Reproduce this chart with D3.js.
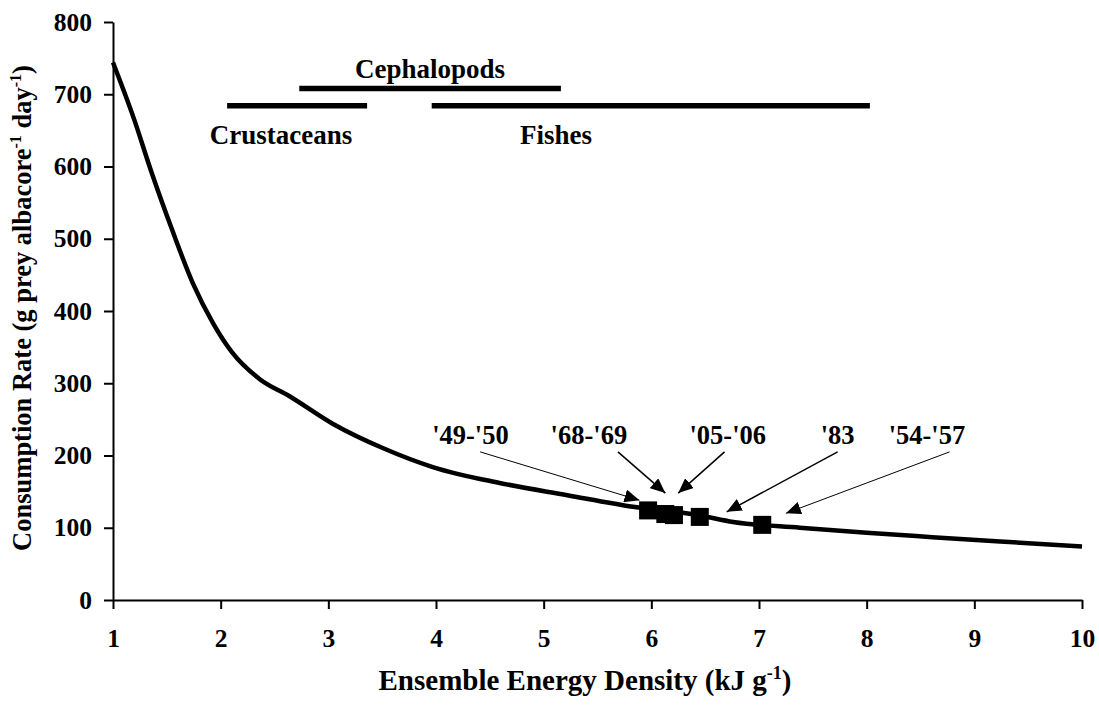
<!DOCTYPE html>
<html>
<head>
<meta charset="utf-8">
<script src="https://cdn.jsdelivr.net/npm/d3@7"></script>
<style>
  body { margin: 0; background: #fff; }
  text { font-family: "Liberation Serif", "Times New Roman", serif; font-weight: bold; fill: #000; }
</style>
</head>
<body>
<svg id="chart" width="1099" height="710"></svg>
<script>
// curve (energy density, consumption rate)
var curveX = [1, 1.19, 1.36, 1.55, 1.74, 1.93, 2.11, 2.36, 2.64, 3.04, 3.51, 3.97, 4.59, 5.22, 5.83, 6.45, 6.76, 7.38, 8.0, 8.61, 9.24, 10]
var curveY = [744, 668, 591, 512, 439, 383, 342, 306, 282, 244, 210, 184, 162, 145, 129, 117, 108, 100, 93, 87, 81, 74]

// the yearly points
var pointX = [5.97, 6.13, 6.21, 6.45, 7.03]
var pointY = [124, 119, 117.5, 115, 104]

// prey ranges
var rangeNames = ['Crustaceans', 'Cephalopods', 'Fishes']
var rangeFrom = [2.06, 2.73, 3.96]
var rangeTo = [3.36, 5.16, 8.03]
var rangeLevel = [684, 708, 684]

// year labels and their arrows (text x, arrow start, arrow tip)
var yearLabels = ["'49-'50", "'68-'69", "'05-'06", "'83", "'54-'57"]
var labelX = [4.32, 5.42, 6.71, 7.73, 8.56]
var arrowFromX = [4.41, 5.69, 6.68, 7.73, 8.77]
var arrowToX = [5.89, 6.13, 6.25, 6.70, 7.25]
var arrowToY = [138, 148, 148, 122, 120]
var arrowWidth = [1, 1.5, 1.5, 1.5, 1]

var xTicks = [1, 2, 3, 4, 5, 6, 7, 8, 9, 10]
var yTicks = [0, 100, 200, 300, 400, 500, 600, 700, 800]

var svg = d3.select('#chart')
var x = d3.scaleLinear().domain([1, 10]).range([113, 1082])
var y = d3.scaleLinear().domain([0, 800]).range([600, 22])

svg.append('defs').append('marker')
  .attr('id', 'head')
  .attr('markerUnits', 'userSpaceOnUse')
  .attr('viewBox', '0 0 15 13')
  .attr('markerWidth', 15).attr('markerHeight', 13)
  .attr('refX', 15).attr('refY', 6.5)
  .attr('orient', 'auto')
  .append('path').attr('d', 'M0,0L15,6.5L0,13Z').attr('fill', '#000')

// axes
svg.append('g')
  .attr('transform', 'translate(0,' + y(0) + ')')
  .call(d3.axisBottom(x).tickValues(xTicks).tickSizeInner(9).tickSizeOuter(0).tickPadding(20).tickFormat(d3.format('d')))
svg.append('g')
  .attr('transform', 'translate(' + x(1) + ',0)')
  .call(d3.axisLeft(y).tickValues(yTicks).tickSizeInner(9).tickSizeOuter(0).tickPadding(12))

svg.selectAll('.domain, .tick line').attr('stroke', '#000').attr('stroke-width', 2)
svg.selectAll('.tick text').attr('font-size', 25.5).attr('fill', '#000')

// curve
var curveData = curveX.map((d, i) => [d, curveY[i]])
svg.append('path')
  .datum(curveData)
  .attr('fill', 'none')
  .attr('stroke', '#000')
  .attr('stroke-width', 4.5)
  .attr('d', d3.line().x(d => x(d[0])).y(d => y(d[1])).curve(d3.curveMonotoneX))

// prey range bars
rangeNames.forEach(function (name, i) {
  svg.append('line')
    .attr('x1', x(rangeFrom[i])).attr('x2', x(rangeTo[i]))
    .attr('y1', y(rangeLevel[i])).attr('y2', y(rangeLevel[i]))
    .attr('stroke', '#000').attr('stroke-width', 5.5)
})
svg.append('text').attr('x', x((rangeFrom[1] + rangeTo[1]) / 2)).attr('y', 78)
  .attr('text-anchor', 'middle').attr('font-size', 27).text(rangeNames[1])
svg.append('text').attr('x', 281).attr('y', 144)
  .attr('text-anchor', 'middle').attr('font-size', 27).text(rangeNames[0])
svg.append('text').attr('x', 556).attr('y', 144)
  .attr('text-anchor', 'middle').attr('font-size', 27).text(rangeNames[2])

// arrows and labels
yearLabels.forEach(function (lab, i) {
  svg.append('text').attr('x', x(labelX[i])).attr('y', y(216))
    .attr('text-anchor', 'middle').attr('font-size', 26.5).text(lab)
  svg.append('line')
    .attr('x1', x(arrowFromX[i])).attr('y1', y(205))
    .attr('x2', x(arrowToX[i])).attr('y2', y(arrowToY[i]))
    .attr('stroke', '#000').attr('stroke-width', arrowWidth[i])
    .attr('marker-end', 'url(#head)')
})

// points
svg.selectAll('rect.pt')
  .data(pointX)
  .join('rect')
  .attr('class', 'pt')
  .attr('x', (d, i) => x(d) - 9)
  .attr('y', (d, i) => y(pointY[i]) - 9)
  .attr('width', 18).attr('height', 18)
  .attr('fill', '#000')

// axis titles
var xt = svg.append('text').attr('x', 585).attr('y', 690).attr('text-anchor', 'middle').attr('font-size', 29)
xt.append('tspan').text('Ensemble Energy Density (kJ g')
xt.append('tspan').attr('font-size', 18).attr('dy', -11).text('-1')
xt.append('tspan').attr('dy', 11).text(')')

var yt = svg.append('text').attr('transform', 'translate(31,308) rotate(-90)').attr('text-anchor', 'middle').attr('font-size', 26.5)
yt.append('tspan').text('Consumption Rate (g prey albacore')
yt.append('tspan').attr('font-size', 16).attr('dy', -10).text('-1')
yt.append('tspan').attr('dy', 10).text(' day')
yt.append('tspan').attr('font-size', 16).attr('dy', -10).text('-1')
yt.append('tspan').attr('dy', 10).text(')')
</script>
</body>
</html>
